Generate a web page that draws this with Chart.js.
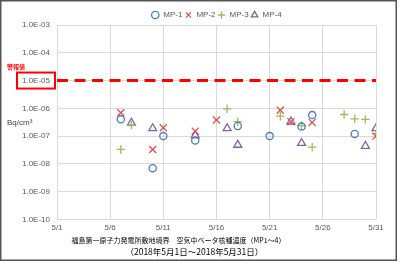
<!DOCTYPE html>
<html><head><meta charset="utf-8">
<script src="https://cdn.jsdelivr.net/npm/chart.js@4/dist/chart.umd.min.js"></script>
<style>html,body{margin:0;padding:0;background:#fff;}canvas{display:block;}</style>
</head><body>
<canvas id="c" width="400" height="262"></canvas>
<script>
// ---- data ----
const seriesNames = ['MP-1','MP-2','MP-3','MP-4'];
const mp1Days = [7,10,11,14,18,21,24,25,29];
const mp1Vals = [4.0e-7,7.0e-9,1.0e-7,7.0e-8,2.3e-7,1.0e-7,2.2e-7,5.7e-7,1.2e-7];
const mp2Days = [7,10,11,14,16,22,23,25,31];
const mp2Vals = [6.9e-7,3.3e-8,2.0e-7,1.5e-7,3.8e-7,8.5e-7,3.3e-7,3.1e-7,1.0e-7];
const mp3Days = [7,8,17,18,22,24,25,28,29,30,31];
const mp3Vals = [3.3e-8,2.5e-7,9.6e-7,3.3e-7,5.2e-7,2.4e-7,4.0e-8,6.0e-7,4.2e-7,4.0e-7,1.2e-7];
const mp4Days = [8,10,14,17,18,23,24,30,31];
const mp4Vals = [3.0e-7,1.9e-7,1.05e-7,1.9e-7,4.8e-8,3.3e-7,5.6e-8,4.4e-8,1.9e-7];
const alarmLevel = 1e-5;
const alarmLabel = '警報値';
const unitLabel = 'Bq/cm³';
const yTickVals = [1e-10,1e-9,1e-8,1e-7,1e-6,1e-5,1e-4,1e-3];
const xFirstDay = 1, xLastDay = 31, xStep = 5;
const titleLine1 = '福島第一原子力発電所敷地境界　空気中ベータ核種濃度（MP1～4）　　　 ';
const titleLine2 = '　　（2018年5月1日～2018年5月31日）';

const pts = (d, v) => d.map((x, i) => ({x, y: v[i]}));
const fmtE = v => { const e = Math.round(Math.log10(v)); return '1.0E' + (e < 0 ? '-' : '+') + String(Math.abs(e)).padStart(2, '0'); };

const decor = {
  id: 'decor',
  afterLayout(chart) {
    if (chart.legend) { chart.legend.top += 4; chart.legend.bottom += 4; }
  },
  afterDraw(chart) {
    const ctx = chart.ctx, y = chart.scales.y;
    const ya = y.getPixelForValue(alarmLevel);
    ctx.save();
    ctx.strokeStyle = '#ff0000'; ctx.lineWidth = 2;
    ctx.strokeRect(17, ya - 8, 38, 16);
    ctx.fillStyle = '#ff0000';
    ctx.font = 'bold 6px "Noto Sans CJK JP"';
    ctx.textAlign = 'left'; ctx.textBaseline = 'middle';
    ctx.fillText(alarmLabel, 7, ya - 14);
    ctx.fillStyle = '#404040';
    ctx.font = '8px "Liberation Sans"';
    ctx.fillText(unitLabel, 7, y.getPixelForValue(1e-7) - 13);
    ctx.strokeStyle = '#555'; ctx.lineWidth = 1.5;
    ctx.strokeRect(0.75, 0.75, 395.5, 259.5);
    ctx.restore();
  }
};

new Chart(document.getElementById('c'), {
  type: 'scatter',
  data: {
    datasets: [
      {label: seriesNames[0], data: pts(mp1Days, mp1Vals), pointStyle: 'circle', pointRadius: 3.6, borderColor: '#4a7ebb', backgroundColor: 'rgba(0,0,0,0)', borderWidth: 1.3},
      {label: seriesNames[1], data: pts(mp2Days, mp2Vals), pointStyle: 'crossRot', pointRadius: 5, borderColor: '#e0504d', backgroundColor: '#e0504d', borderWidth: 1.3},
      {label: seriesNames[2], data: pts(mp3Days, mp3Vals), pointStyle: 'cross', pointRadius: 4.2, borderColor: '#9bbb59', backgroundColor: '#9bbb59', borderWidth: 1.3},
      {label: seriesNames[3], data: pts(mp4Days, mp4Vals), pointStyle: 'triangle', pointRadius: 4.6, borderColor: '#8064a2', backgroundColor: 'rgba(0,0,0,0)', borderWidth: 1.3},
      {type: 'line', label: 'alarm', data: [{x: xFirstDay, y: alarmLevel}, {x: xLastDay, y: alarmLevel}], borderColor: '#ff0000', borderWidth: 3, borderDash: [11, 6.5], pointRadius: 0, fill: false}
    ]
  },
  options: {
    responsive: false, animation: false, devicePixelRatio: 1,
    layout: {padding: {left: 0, right: 24, top: 5, bottom: 5}},
    plugins: {
      legend: {
        position: 'top', fullSize: false,
        labels: {usePointStyle: true, boxWidth: 8, boxHeight: 5.2, padding: 2, color: '#595959', font: {size: 8, family: '"Liberation Sans"'},
          filter: it => it.text !== 'alarm'}
      },
      title: {display: true, position: 'bottom', text: titleLine2, color: '#000', font: {size: 8.5, weight: 'normal', family: '"Noto Sans CJK JP"'}, padding: {top: 2, bottom: 0}},
      subtitle: {display: true, position: 'bottom', text: titleLine1, color: '#000', font: {size: 7, weight: 'normal', family: '"Noto Sans CJK JP"'}, padding: {top: 2, bottom: 0}},
      tooltip: {enabled: false}
    },
    scales: {
      x: {
        type: 'linear', min: xFirstDay, max: xLastDay,
        ticks: {stepSize: xStep, callback: v => '5/' + v, color: '#595959', font: {size: 8, family: '"Liberation Sans"'}, padding: 4, maxRotation: 0},
        grid: {color: '#d9d9d9', drawTicks: false}, border: {display: false},
        afterFit: s => { s.height = 15; }
      },
      y: {
        type: 'logarithmic', min: 1e-10, max: 1e-3,
        afterBuildTicks: s => { s.ticks = yTickVals.map(v => ({value: v})); },
        ticks: {callback: v => fmtE(v), color: '#595959', font: {size: 8, family: '"Liberation Sans"'}, padding: 7, autoSkip: false},
        grid: {color: '#d9d9d9', drawTicks: false}, border: {display: false},
        afterFit: s => { s.width = 57; }
      }
    }
  },
  plugins: [decor]
});
</script>
</body></html>
